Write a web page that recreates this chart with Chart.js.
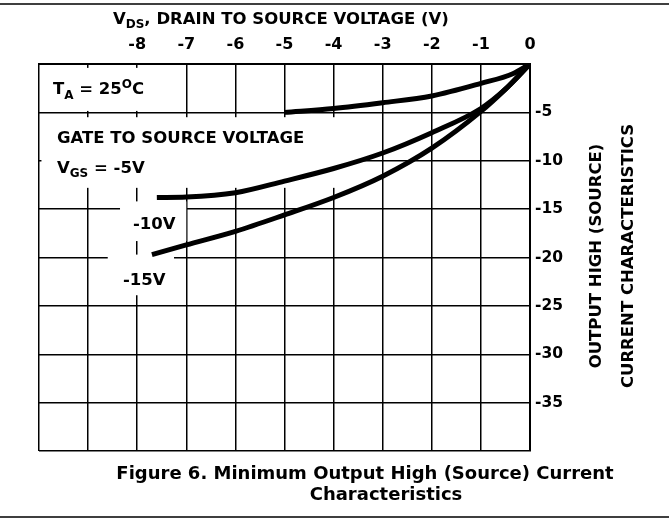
<!DOCTYPE html>
<html>
<head>
<meta charset="utf-8">
<script src="https://cdn.jsdelivr.net/npm/chart.js@4.4.0/dist/chart.umd.min.js"></script>
<style>
  html, body { margin: 0; padding: 0; background: #fff; }
  #wrap { width: 669px; height: 523px; position: relative; }
</style>
</head>
<body>
<div id="wrap"><canvas id="sourceChart" width="669" height="523"></canvas></div>
<script>
// Dados (VDS em V, corrente em mA)
const gs5Vds = [-5, -4, -3, -2, -1, -0.35, 0];
const gs5Id = [-5.0, -4.6, -4.0, -3.3, -2.0, -1.0, 0];

const gs10Vds = [-7.6, -7, -6, -5, -4, -3, -2, -1, -0.5, 0];
const gs10Id = [-13.8, -13.75, -13.3, -12.1, -10.8, -9.2, -7.1, -4.6, -2.6, 0];

const gs15Vds = [-7.7, -7, -6, -5, -4, -3, -2, -1, -0.5, 0];
const gs15Id = [-19.7, -18.7, -17.3, -15.6, -13.8, -11.6, -8.7, -4.9, -2.6, 0];

const xTickLabels = [-8, -7, -6, -5, -4, -3, -2, -1, 0];
const yTickLabels = [-5, -10, -15, -20, -25, -30, -35];

const FONT = '"DejaVu Sans", "Liberation Sans", Arial, sans-serif';

const toPoints = (xs, ys) => xs.map((x, i) => ({ x: x, y: ys[i] }));

const curve = (label, xs, ys) => ({
    label: label,
    data: toPoints(xs, ys),
    borderColor: '#000',
    borderWidth: 5,
    pointRadius: 0,
    fill: false,
    cubicInterpolationMode: 'monotone',
    borderCapStyle: 'butt'
});

// Caixas brancas por trás das anotações (escondem a grade)
const labelBoxes = [
    { x1: -9.95, x2: -7.05, y1: -0.4, y2: -4.85 },
    { x1: -9.95, x2: -3.5, y1: -5.5, y2: -12.8 },
    { x1: -8.35, x2: -7.0, y1: -14.2, y2: -18.3 },
    { x1: -8.6, x2: -7.25, y1: -19.7, y2: -23.9 }
];

const boxesPlugin = {
    id: 'boxes',
    beforeDatasetsDraw(chart) {
        const { ctx, scales: { x, y } } = chart;
        ctx.save();
        ctx.fillStyle = '#fff';
        labelBoxes.forEach(b => {
            const px1 = x.getPixelForValue(b.x1);
            const px2 = x.getPixelForValue(b.x2);
            const py1 = y.getPixelForValue(b.y1);
            const py2 = y.getPixelForValue(b.y2);
            ctx.fillRect(px1, py1, px2 - px1, py2 - py1);
        });
        ctx.restore();
    }
};

// Escreve texto com partes em subscrito / sobrescrito
function richText(ctx, parts, x, baseline, size) {
    let cx = x;
    parts.forEach(p => {
        const s = p.small ? Math.round(size * 0.75) : size;
        ctx.font = 'bold ' + s + 'px ' + FONT;
        ctx.fillText(p.t, cx, baseline + (p.dy || 0));
        cx += ctx.measureText(p.t).width;
    });
}

const textPlugin = {
    id: 'texts',
    afterDraw(chart) {
        const { ctx, width } = chart;
        ctx.save();
        ctx.fillStyle = '#000';
        ctx.textAlign = 'left';
        ctx.textBaseline = 'alphabetic';

        // linhas horizontais da página
        ctx.strokeStyle = '#000';
        ctx.lineWidth = 1.5;
        ctx.beginPath();
        ctx.moveTo(0, 4); ctx.lineTo(width, 4);
        ctx.moveTo(0, 517); ctx.lineTo(width, 517);
        ctx.stroke();

        // título do eixo X
        richText(ctx, [
            { t: 'V' },
            { t: 'DS', small: true, dy: 4 },
            { t: ', DRAIN TO SOURCE VOLTAGE (V)' }
        ], 113, 24, 16.5);

        // anotações
        richText(ctx, [
            { t: 'T' },
            { t: 'A', small: true, dy: 5 },
            { t: ' = 25' },
            { t: 'O', small: true, dy: -6 },
            { t: 'C' }
        ], 53, 94, 16.5);

        richText(ctx, [{ t: 'GATE TO SOURCE VOLTAGE' }], 57, 143, 16.5);
        richText(ctx, [
            { t: 'V' },
            { t: 'GS', small: true, dy: 4 },
            { t: ' = -5V' }
        ], 57, 173, 16.5);
        richText(ctx, [{ t: '-10V' }], 133, 229, 16.5);
        richText(ctx, [{ t: '-15V' }], 123, 285, 16.5);

        // título do eixo Y (duas linhas, rotacionado)
        ctx.font = 'bold 16.5px ' + FONT;
        ctx.textAlign = 'center';
        ctx.textBaseline = 'middle';
        [['OUTPUT HIGH (SOURCE)', 597], ['CURRENT CHARACTERISTICS', 629]].forEach(([t, px]) => {
            ctx.save();
            ctx.translate(px, 256);
            ctx.rotate(-Math.PI / 2);
            ctx.fillText(t, 0, 0);
            ctx.restore();
        });

        // legenda da figura
        ctx.textBaseline = 'alphabetic';
        ctx.font = 'bold 18px ' + FONT;
        ctx.fillText('Figure 6. Minimum Output High (Source) Current', 365, 479);
        ctx.fillText('Characteristics', 386, 500);

        ctx.restore();
    }
};

new Chart(document.getElementById('sourceChart').getContext('2d'), {
    type: 'line',
    data: {
        datasets: [
            curve('VGS = -5V', gs5Vds, gs5Id),
            curve('VGS = -10V', gs10Vds, gs10Id),
            curve('VGS = -15V', gs15Vds, gs15Id)
        ]
    },
    options: {
        responsive: false,
        animation: false,
        layout: { padding: { left: 39, top: 0, right: 0, bottom: 72 } },
        plugins: {
            legend: { display: false },
            tooltip: { enabled: false }
        },
        scales: {
            x: {
                type: 'linear',
                position: 'top',
                min: -10,
                max: 0,
                afterFit: s => { s.height = 64; },
                ticks: {
                    stepSize: 1,
                    padding: 10,
                    color: '#000',
                    font: { family: FONT, size: 16, weight: 'bold' },
                    callback: v => xTickLabels.includes(v) ? String(v) : ''
                },
                grid: { color: '#000', lineWidth: 1.5, drawTicks: false },
                border: { color: '#000', width: 2 }
            },
            y: {
                type: 'linear',
                position: 'right',
                min: -40,
                max: 0,
                afterFit: s => { s.width = 139; },
                ticks: {
                    stepSize: 5,
                    padding: 5,
                    color: '#000',
                    font: { family: FONT, size: 15.5, weight: 'bold' },
                    callback: v => yTickLabels.includes(v) ? String(v) : ''
                },
                grid: { color: '#000', lineWidth: 1.5, drawTicks: false },
                border: { color: '#000', width: 2 }
            }
        }
    },
    plugins: [boxesPlugin, textPlugin]
});
</script>
</body>
</html>
